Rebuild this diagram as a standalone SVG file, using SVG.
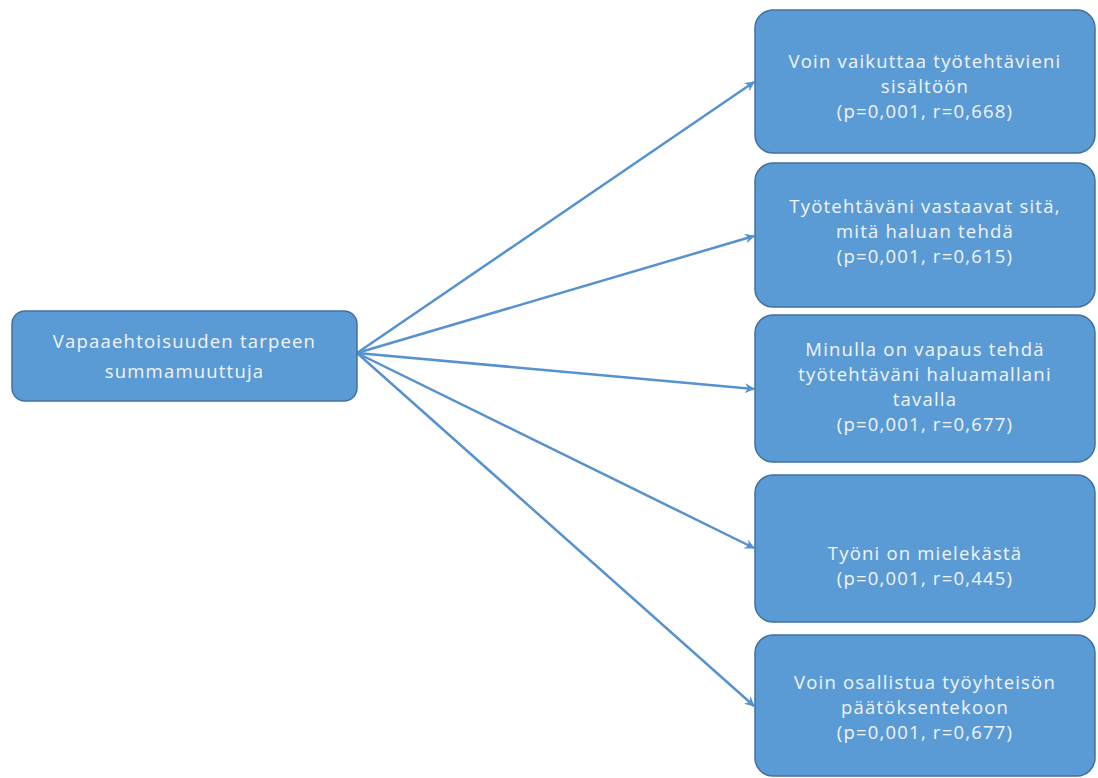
<svg xmlns="http://www.w3.org/2000/svg" width="1098" height="778" viewBox="0 0 1098 778">
  <style>
    .box { fill: #5b9bd5; stroke: #41719c; stroke-width: 1.5; }
    .lbl { font-family: "Open Sans", "Liberation Sans", sans-serif; font-size: 18.5px; letter-spacing: 1.2px; fill: #f2f4f7; text-anchor: middle; }
    .edge { stroke: #5592cf; stroke-width: 2.5; fill: none; marker-end: url(#arrow); }
  </style>
  <defs>
    <marker id="arrow" viewBox="0 0 10 10" refX="9" refY="5" markerWidth="4" markerHeight="4" orient="auto" markerUnits="strokeWidth">
      <path d="M0,0 L10,5 L0,10 L3,5 Z" fill="#5592cf"/>
    </marker>
  </defs>
  <rect width="1098" height="778" fill="#ffffff"/>

  <!-- spokes from the summary variable to each item -->
  <g id="connectors">
    <line class="edge" x1="357" y1="353" x2="754" y2="82"/>
    <line class="edge" x1="357" y1="353" x2="754" y2="236"/>
    <line class="edge" x1="357" y1="353" x2="754" y2="389"/>
    <line class="edge" x1="357" y1="353" x2="754" y2="548"/>
    <line class="edge" x1="357" y1="353" x2="754" y2="706"/>
  </g>

  <g id="source">
    <rect class="box" x="12" y="311" width="345" height="90" rx="13"/>
    <text class="lbl" x="184.5" y="348">Vapaaehtoisuuden tarpeen</text>
    <text class="lbl" x="184.5" y="378">summamuuttuja</text>
  </g>

  <g id="target-1">
    <rect class="box" x="755" y="10" width="340" height="143" rx="18"/>
    <text class="lbl" x="925" y="68">Voin vaikuttaa työtehtävieni</text>
    <text class="lbl" x="925" y="93">sisältöön</text>
    <text class="lbl" x="925" y="118">(p=0,001, r=0,668)</text>
  </g>

  <g id="target-2">
    <rect class="box" x="755" y="163" width="340" height="144" rx="18"/>
    <text class="lbl" x="925" y="213">Työtehtäväni vastaavat sitä,</text>
    <text class="lbl" x="925" y="238">mitä haluan tehdä</text>
    <text class="lbl" x="925" y="263">(p=0,001, r=0,615)</text>
  </g>

  <g id="target-3">
    <rect class="box" x="755" y="315" width="340" height="147" rx="18"/>
    <text class="lbl" x="925" y="356">Minulla on vapaus tehdä</text>
    <text class="lbl" x="925" y="381">työtehtäväni haluamallani</text>
    <text class="lbl" x="925" y="406">tavalla</text>
    <text class="lbl" x="925" y="431">(p=0,001, r=0,677)</text>
  </g>

  <g id="target-4">
    <rect class="box" x="755" y="475" width="340" height="147" rx="18"/>
    <text class="lbl" x="925" y="560">Työni on mielekästä</text>
    <text class="lbl" x="925" y="585">(p=0,001, r=0,445)</text>
  </g>

  <g id="target-5">
    <rect class="box" x="755" y="635" width="340" height="141" rx="18"/>
    <text class="lbl" x="925" y="689">Voin osallistua työyhteisön</text>
    <text class="lbl" x="925" y="714">päätöksentekoon</text>
    <text class="lbl" x="925" y="739">(p=0,001, r=0,677)</text>
  </g>
</svg>
